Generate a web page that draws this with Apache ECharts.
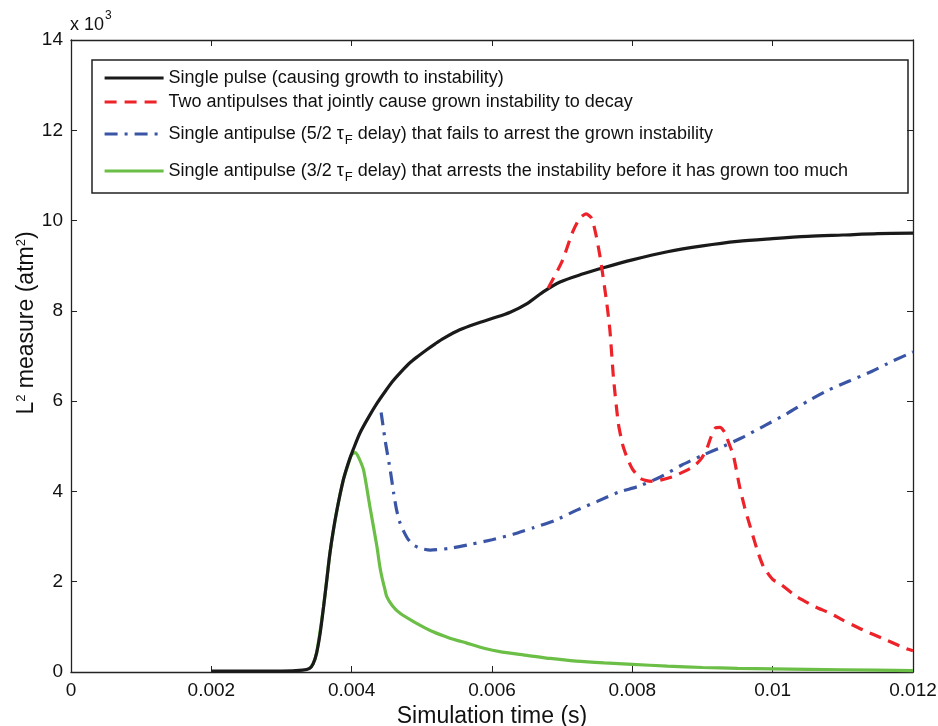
<!DOCTYPE html>
<html>
<head>
<meta charset="utf-8">
<script src="https://cdn.jsdelivr.net/npm/echarts@6/dist/echarts.min.js"></script>
<style>html,body{margin:0;padding:0;background:#fff}#c{width:938px;height:726px}</style>
</head>
<body>
<div id="c"></div>
<script>
// x in seconds, y in units of 10^3 atm^2
var blackX = [0.002,0.0030,0.0033,0.0034,0.00345,0.0035,0.00355,0.0036,0.00365,0.00369,0.00374,0.00379,0.00388,0.00395,0.00402,0.00412,0.00424,0.00436,0.00448,0.00459,0.00471,0.00483,0.00495,0.00507,0.00519,0.00531,0.00554,0.00578,0.00602,0.00626,0.0065,0.00673,0.00697,0.0073,0.0076,0.008,0.0085,0.009,0.0095,0.01,0.0105,0.011,0.0115,0.012];
var blackY = [0.02,0.02,0.04,0.08,0.18,0.42,0.85,1.45,2.1,2.63,3.15,3.59,4.25,4.62,4.92,5.3,5.64,5.95,6.22,6.45,6.66,6.85,7.0,7.14,7.27,7.39,7.58,7.72,7.84,7.97,8.16,8.42,8.64,8.82,8.96,9.13,9.31,9.44,9.54,9.6,9.65,9.68,9.71,9.72];

var redX = [0.0068,0.0070,0.00715,0.00725,0.00734,0.00742,0.00748,0.00754,0.00763,0.00768,0.00773,0.0078,0.00786,0.00792,0.008,0.00811,0.0082,0.0083,0.0084,0.00858,0.00875,0.00887,0.00897,0.00905,0.00912,0.00918,0.00925,0.00932,0.00938,0.00944,0.00953,0.0096,0.00968,0.00978,0.00987,0.01,0.0101,0.01034,0.0106,0.01082,0.011,0.01129,0.0116,0.0119,0.012];
var redY = [8.5,9.1,9.75,10.05,10.15,10.05,9.7,9.2,8.24,7.58,6.54,5.51,5.05,4.77,4.5,4.29,4.24,4.22,4.25,4.33,4.45,4.55,4.7,4.9,5.2,5.4,5.42,5.3,5.05,4.8,4.1,3.65,3.22,2.7,2.33,2.05,1.96,1.67,1.45,1.3,1.15,0.93,0.72,0.52,0.47];

var blueX = [0.00442,0.00448,0.00455,0.0046,0.00464,0.00469,0.00474,0.0048,0.00488,0.005,0.00512,0.0054,0.0057,0.006,0.0063,0.0066,0.0069,0.0072,0.0075,0.0078,0.0081,0.0084,0.0087,0.009,0.0093,0.0096,0.0099,0.0102,0.0105,0.0108,0.0111,0.0114,0.0117,0.012];
var blueY = [5.75,5.1,4.47,3.95,3.59,3.3,3.12,2.95,2.81,2.73,2.7,2.74,2.83,2.93,3.05,3.2,3.36,3.58,3.78,3.98,4.12,4.32,4.58,4.8,5.0,5.22,5.47,5.72,6.0,6.25,6.45,6.65,6.88,7.09];

var greenX = [0.0034,0.00345,0.0035,0.0036,0.00369,0.00379,0.00388,0.00395,0.004,0.00405,0.0041,0.00417,0.00426,0.00436,0.0044,0.00443,0.00447,0.0045,0.00458,0.00469,0.0049,0.00516,0.0054,0.00564,0.0059,0.00611,0.0065,0.00683,0.0072,0.0076,0.008,0.0085,0.009,0.0095,0.01,0.011,0.012];
var greenY = [0.08,0.18,0.42,1.45,2.63,3.59,4.25,4.6,4.82,4.86,4.75,4.47,3.66,2.78,2.35,2.11,1.85,1.67,1.47,1.3,1.1,0.89,0.75,0.64,0.52,0.45,0.37,0.3,0.24,0.2,0.17,0.13,0.1,0.08,0.07,0.05,0.03];

var legendTexts = {
  black: 'Single pulse (causing growth to instability)',
  red: 'Two antipulses that jointly cause grown instability to decay',
  blue: 'Single antipulse (5/2 {g|τ}{sub|F} delay) that fails to arrest the grown instability',
  green: 'Single antipulse (3/2 {g|τ}{sub|F} delay) that arrests the instability before it has grown too much'
};
var xTickLabels = ['0','0.002','0.004','0.006','0.008','0.01','0.012'];
var yTickLabels = ['0','2','4','6','8','10','12','14'];
var xTitle = 'Simulation time (s)';
var yTitle = 'L{sup|2} measure (atm{sup|2})';

function zip(a, b) { return a.map(function (v, i) { return [v, b[i]]; }); }

var FONT = 'Liberation Sans';
var chart = echarts.init(document.getElementById('c'), null, {renderer: 'canvas'});

var axisCommon = {
  type: 'value',
  axisLine: {show: true, onZero: false, lineStyle: {color: '#222', width: 1.3}},
  axisTick: {show: true, inside: true, length: 6, lineStyle: {color: '#222', width: 1}},
  splitLine: {show: false}
};

function legendFor(name, top, left) {
  return {
    data: [name], top: top, left: left, orient: 'horizontal',
    itemWidth: 59, itemHeight: 14, itemGap: 0, padding: 0,
    icon: 'inherit',
    itemStyle: {opacity: 0},
    lineStyle: {width: 3.2},
    selectedMode: false,
    formatter: function (n) { return legendTexts[n]; },
    textStyle: {
      fontFamily: FONT, fontSize: 18, color: '#111',
      rich: {
        g: {fontFamily: FONT, fontSize: 18, color: '#111'},
        sub: {fontFamily: FONT, fontSize: 13, color: '#111', padding: [13, 0, 0, 1]}
      }
    }
  };
}

var option = {
  animation: false,
  backgroundColor: '#fff',
  grid: {left: 71, right: 25, top: 40, bottom: 54, show: false, outerBoundsMode: 'none', containLabel: false},
  xAxis: [
    Object.assign({}, axisCommon, {
      min: 0, max: 0.012, interval: 0.002, position: 'bottom',
      axisLabel: {show: true, margin: 9, fontFamily: FONT, fontSize: 19, color: '#111',
        formatter: function (v) { return xTickLabels[Math.round(v / 0.002)]; }},
      name: xTitle, nameLocation: 'middle', nameGap: 18,
      nameTextStyle: {fontFamily: FONT, fontSize: 23, color: '#111'}
    }),
    Object.assign({}, axisCommon, {
      min: 0, max: 0.012, interval: 0.002, position: 'top',
      axisLabel: {show: false}
    })
  ],
  yAxis: [
    Object.assign({}, axisCommon, {
      min: 0, max: 14, interval: 2, position: 'left',
      axisLabel: {show: true, margin: 8, fontFamily: FONT, fontSize: 19, color: '#111',
        formatter: function (v) { return yTickLabels[Math.round(v / 2)]; }}
    }),
    Object.assign({}, axisCommon, {
      min: 0, max: 14, interval: 2, position: 'right',
      axisLabel: {show: false}
    })
  ],
  legend: [
    legendFor('black', 69, 103),
    legendFor('red', 93, 103),
    legendFor('blue', 125, 103),
    legendFor('green', 162, 103)
  ],
  graphic: [
    {type: 'rect', shape: {x: 92, y: 60, width: 816, height: 133},
     style: {fill: 'rgba(0,0,0,0)', stroke: '#222', lineWidth: 1.5}, z: 0, silent: true},
    {type: 'text', x: 70, y: 25,
     style: {text: 'x 10', fontFamily: FONT, fontSize: 18, fill: '#111', align: 'left', verticalAlign: 'middle'}},
    {type: 'text', x: 105, y: 16,
     style: {text: '3', fontFamily: FONT, fontSize: 12, fill: '#111', align: 'left', verticalAlign: 'middle'}},
    {type: 'text', x: 27, y: 323, rotation: Math.PI / 2,
     style: {text: yTitle, fontFamily: FONT, fontSize: 23, fill: '#111', align: 'center', verticalAlign: 'middle',
       rich: {sup: {fontFamily: FONT, fontSize: 13, fill: '#111', padding: [0, 0, 12, 0]}}}}
  ],
  series: [
    {name: 'green', type: 'line', data: zip(greenX, greenY), symbol: 'none', smooth: 0.2, z: 2,
     lineStyle: {color: '#6bbf46', width: 3.2}, itemStyle: {color: '#6bbf46'}},
    {name: 'blue', type: 'line', data: zip(blueX, blueY), symbol: 'none', smooth: 0.2, z: 3,
     lineStyle: {color: '#3a55a5', width: 3.2, type: [13, 7, 3, 7]}, itemStyle: {color: '#3a55a5'}},
    {name: 'black', type: 'line', data: zip(blackX, blackY), symbol: 'none', smooth: 0.3, z: 4,
     lineStyle: {color: '#1a1a1a', width: 3.2}, itemStyle: {color: '#1a1a1a'}},
    {name: 'red', type: 'line', data: zip(redX, redY), symbol: 'none', smooth: 0.2, z: 5,
     lineStyle: {color: '#ee2229', width: 3.2, type: [12, 8]}, itemStyle: {color: '#ee2229'}}
  ]
};
chart.setOption(option);
</script>
</body>
</html>
